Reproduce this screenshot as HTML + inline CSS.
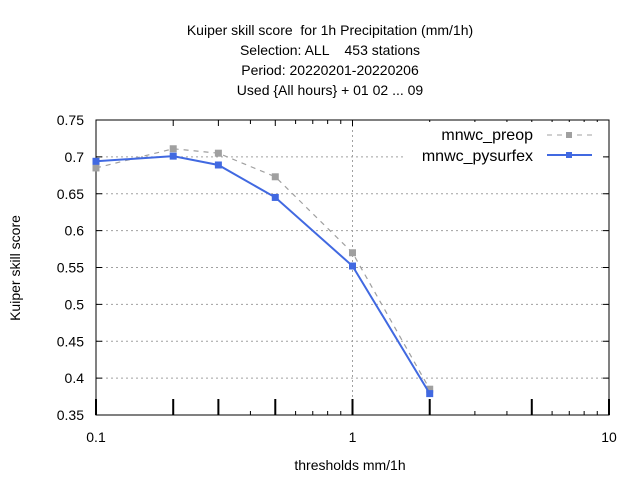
<!DOCTYPE html>
<html><head><meta charset="utf-8"><style>
body{margin:0;background:#fff}
svg text{font-family:"Liberation Sans",sans-serif;font-size:14px;fill:#000;white-space:pre}
</style></head><body>
<svg id="chart" width="640" height="480" xmlns="http://www.w3.org/2000/svg">
<g text-anchor="middle">
<text x="330" y="35">Kuiper skill score  for 1h Precipitation (mm/1h)</text>
<text x="330" y="55">Selection: ALL    453 stations</text>
<text x="330" y="75">Period: 20220201-20220206</text>
<text x="330" y="95">Used {All hours} + 01 02 ... 09</text>
</g>
<g id="grid"></g>
<g id="axes"></g>
<g id="series"></g>
<text x="20" y="268" text-anchor="middle" transform="rotate(-90 20 268)">Kuiper skill score</text>
<text x="350" y="470" text-anchor="middle">thresholds mm/1h</text>
<g>
<rect x="405" y="122" width="198" height="46" fill="#fff"/>
<text x="533" y="140" text-anchor="end" style="font-size:16px">mnwc_preop</text>
<text x="533" y="161" text-anchor="end" style="font-size:16px">mnwc_pysurfex</text>
<line x1="547" y1="135" x2="592" y2="135" stroke="#a0a0a0" stroke-dasharray="5,5"/>
<rect x="566" y="132" width="6" height="6" fill="#a0a0a0"/>
<line x1="547" y1="155" x2="592" y2="155" stroke="#4169e1" stroke-width="2"/>
<rect x="566" y="152" width="6" height="6" fill="#4169e1"/>
</g>
</svg>
<script>
const thresholds=[0.1,0.2,0.3,0.5,1,2];
const preop=[0.685,0.711,0.705,0.673,0.570,0.385];
const pysurfex=[0.694,0.701,0.689,0.645,0.552,0.379];
const yTicks=[0.35,0.4,0.45,0.5,0.55,0.6,0.65,0.7,0.75];
const xMajor=[0.1,0.2,0.3,0.5,1,2,5,10];
const xMinor=[0.4,0.6,0.7,0.8,0.9,3,4,6,7,8,9];
const xLabels=[0.1,1,10];
const L=96,R=609,T=120,B=415;
const NS='http://www.w3.org/2000/svg';
function X(v){return L+(Math.log10(v)+1)/2*(R-L);}
function Y(v){return B-(v-0.35)/0.4*(B-T);}
function mk(p,tag,a){const e=document.createElementNS(NS,tag);for(const k in a)e.setAttribute(k,a[k]);p.appendChild(e);return e;}
const g=document.getElementById('grid'),ax=document.getElementById('axes'),s=document.getElementById('series');
yTicks.forEach(v=>{
 if(v>0.35&&v<0.75){const l=mk(g,'line',{x1:L,x2:R,y1:Y(v),y2:Y(v),stroke:'#a0a0a0','stroke-dasharray':'2,3'});
 
 }
 mk(ax,'line',{x1:L,x2:L+6,y1:Y(v),y2:Y(v),stroke:'#000'});
 mk(ax,'line',{x1:R,x2:R-6,y1:Y(v),y2:Y(v),stroke:'#000'});
 const t=mk(ax,'text',{x:L-12,y:Y(v)+5,'text-anchor':'end'});t.textContent=String(v);
 
 
});
const vg=mk(g,'line',{x1:X(1),x2:X(1),y1:T,y2:B,stroke:'#a0a0a0','stroke-dasharray':'2,3'});


xMajor.forEach(v=>{mk(ax,'line',{x1:X(v),x2:X(v),y1:B,y2:B-16,stroke:'#000','stroke-width':2});
 mk(ax,'line',{x1:X(v),x2:X(v),y1:T,y2:T+6,stroke:'#000'});});
xMinor.forEach(v=>{mk(ax,'line',{x1:X(v),x2:X(v),y1:B,y2:B-4,stroke:'#000'});
 mk(ax,'line',{x1:X(v),x2:X(v),y1:T,y2:T+4,stroke:'#000'});});
xLabels.forEach(v=>{const t=mk(ax,'text',{x:X(v),y:B+27,'text-anchor':'middle'});t.textContent=String(v);
 
 });
const fr=mk(ax,'rect',{x:L,y:T,width:R-L,height:B-T,fill:'none',stroke:'#000'});


function series(vals,color,dash,w,name){
 const pl=mk(s,'polyline',{points:thresholds.map((t,i)=>X(t)+','+Y(vals[i])).join(' '),fill:'none',stroke:color,'stroke-width':w,'stroke-dasharray':dash});
 
 
 thresholds.forEach((t,i)=>{const r=mk(s,'rect',{x:X(t)-3.5,y:Y(vals[i])-3.5,width:7,height:7,fill:color});
 
 });
}
series(preop,'#a0a0a0','5,5',1.2,'preop');
series(pysurfex,'#4169e1','none',2,'pysurfex');
</script>
</body></html>
